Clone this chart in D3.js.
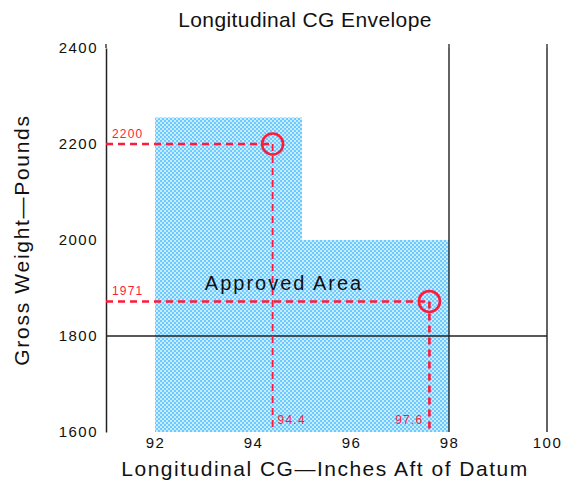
<!DOCTYPE html>
<html><head><meta charset="utf-8">
<script src="https://cdn.jsdelivr.net/npm/d3@7"></script>
<style>body{margin:0;background:#fff;} text{font-family:"Liberation Sans",Arial,sans-serif;}</style>
</head><body><svg id="c" width="564" height="489"></svg>
<script>
// Data
const xTicks = [92, 94, 96, 98, 100];
const yTicks = [1600, 1800, 2000, 2200, 2400];
// Envelope outline (CG inches, weight lbs)
const envelopeCG = [92, 92, 95, 95, 98, 98];
const envelopeW  = [1600, 2255, 2255, 2000, 2000, 1600];
// Loading points: CG, plotted weight, labels
const pointCG = [94.4, 97.6];
const pointW = [2200, 1872];
const pointWLabel = ["2200", "1971"];
const pointCGLabel = ["94.4", "97.6"];
// Reference lines
const vLines = [98, 100];
const hLines = [1800];

const svg = d3.select("#c");
const x = d3.scaleLinear().domain([91, 100]).range([106, 547]);
const y = d3.scaleLinear().domain([1600, 2400]).range([432, 48]);

const defs = svg.append("defs");
const pat = defs.append("pattern").attr("id","chk").attr("patternUnits","userSpaceOnUse")
  .attr("width",4).attr("height",4);
pat.append("rect").attr("width",4).attr("height",4).attr("fill","#c8ecff");
pat.append("rect").attr("width",2).attr("height",2).attr("fill","#6ccaff");
pat.append("rect").attr("x",2).attr("y",2).attr("width",2).attr("height",2).attr("fill","#6ccaff");

// envelope
const pts = envelopeCG.map((c,i)=>[x(c), y(envelopeW[i])]);
svg.append("path").attr("d", d3.line()(pts) + "Z").attr("fill","url(#chk)");

// reference lines
vLines.forEach(v=>{
  svg.append("line").attr("x1",x(v)).attr("x2",x(v)).attr("y1",y(2400)).attr("y2",y(1600))
    .attr("stroke","#222").attr("stroke-width",1.4);
});
hLines.forEach(h=>{
  svg.append("line").attr("x1",x(91)).attr("x2",x(100)).attr("y1",y(h)).attr("y2",y(h))
    .attr("stroke","#222").attr("stroke-width",1.4);
});

// y axis
const ya = svg.append("g").attr("transform",`translate(${x(91)},0)`)
  .call(d3.axisLeft(y).tickValues(yTicks).tickFormat(d3.format("d")).tickSize(0).tickPadding(8));
ya.select(".domain").attr("stroke","#222").attr("stroke-width",1.5);
ya.selectAll("text").attr("font-size",15).attr("letter-spacing",1.5).attr("fill","#111");

// x axis labels (no line)
const xa = svg.append("g").attr("transform",`translate(0,${y(1600)})`)
  .call(d3.axisBottom(x).tickValues(xTicks).tickFormat(d3.format("d")).tickSize(0).tickPadding(5));
xa.select(".domain").remove();
xa.selectAll("text").attr("font-size",15).attr("letter-spacing",1.5).attr("fill","#111");

// small top ticks
[91, 98, 100].forEach(v=>{
  svg.append("line").attr("x1",x(v)).attr("x2",x(v)).attr("y1",y(2400)-4).attr("y2",y(2400))
   .attr("stroke","#222").attr("stroke-width",1.3);
});

// loading lines
const red = "#ff1a3a";
pointCG.forEach((c,i)=>{
  const cx = x(c), cy = y(pointW[i]);
  svg.append("line").attr("x1",x(91)).attr("x2",cx).attr("y1",cy).attr("y2",cy)
    .attr("stroke",red).attr("stroke-width",2.6).attr("stroke-dasharray","7,5");
  svg.append("line").attr("x1",cx).attr("x2",cx).attr("y1",cy).attr("y2",y(1600))
    .attr("stroke",red).attr("stroke-width",i===1?2.6:1.8).attr("stroke-dasharray","7,5");
  svg.append("circle").attr("cx",cx).attr("cy",cy).attr("r",10.5)
    .attr("fill","none").attr("stroke",red).attr("stroke-width",2.6);
  svg.append("text").attr("x",x(91)+6).attr("y",cy-6).attr("font-size",12).attr("letter-spacing",1.2).attr("fill",red)
    .text(pointWLabel[i]);
});
svg.append("text").attr("x",x(pointCG[0])+5).attr("y",y(1600)-8).attr("font-size",12).attr("letter-spacing",1.2).attr("fill",red).text(pointCGLabel[0]);
svg.append("text").attr("x",x(pointCG[1])-6).attr("y",y(1600)-8).attr("font-size",12).attr("letter-spacing",1.2).attr("fill",red)
  .attr("text-anchor","end").text(pointCGLabel[1]);

// labels
svg.append("text").attr("x",284).attr("y",290).attr("text-anchor","middle").attr("font-size",20).attr("letter-spacing",2).attr("fill","#111").text("Approved Area");
svg.append("text").attr("x",305).attr("y",27).attr("text-anchor","middle").attr("font-size",21).attr("letter-spacing",0.4).attr("fill","#111").text("Longitudinal CG Envelope");
svg.append("text").attr("x",325).attr("y",476).attr("text-anchor","middle").attr("font-size",21).attr("letter-spacing",1.5).attr("fill","#111").text("Longitudinal CG—Inches Aft of Datum");
svg.append("text").attr("transform","translate(29,240) rotate(-90)").attr("text-anchor","middle").attr("font-size",21).attr("letter-spacing",1.7).attr("fill","#111").text("Gross Weight—Pounds");
</script></body></html>
